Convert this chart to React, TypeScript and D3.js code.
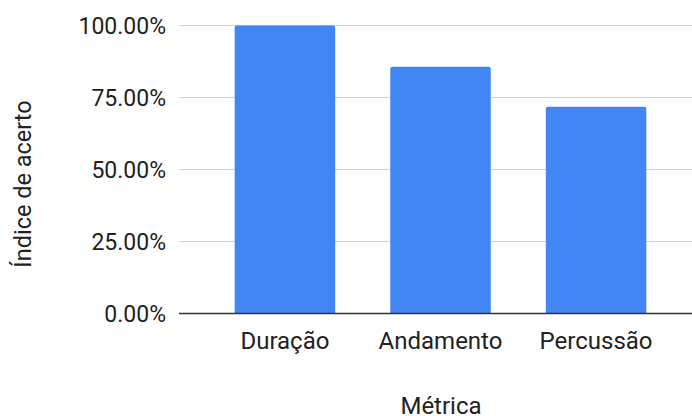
import React from "react";
import * as d3 from "d3";

const categories = ["Duração", "Andamento", "Percussão"];
const values = [100, 85.7, 71.8];
const yTicks = [0, 25, 50, 75, 100];
const xTitle = "Métrica";
const yTitle = "Índice de acerto";

export default function App() {
  const W = 692, H = 416;
  const left = 179, right = 702, top = 25.5, bottom = 313.5;
  const x = d3.scaleBand<string>().domain(categories).range([left, right]).paddingInner(0.354).paddingOuter(0.358);
  const y = d3.scaleLinear().domain([0, 100]).range([bottom, top]);
  const font = "Roboto, sans-serif";
  return (
    <svg width={W} height={H} style={{ position: "absolute", left: 0, top: 0, background: "#fff" }}>
      {yTicks.map((t) => (
        <g key={t}>
          {t > 0 && <line x1={left} x2={W} y1={y(t)} y2={y(t)} stroke="#d0d0d0" strokeWidth={1} />}
          <text x={166} y={y(t) + 8.2} textAnchor="end" fontFamily={font} fontSize={23} fill="#222">
            {t.toFixed(2) + "%"}
          </text>
        </g>
      ))}
      {categories.map((c, i) => {
        const x0 = x(c)!;
        const bw = x.bandwidth();
        const yt = y(values[i]);
        const r = 2;
        const d = `M${x0},${bottom} V${yt + r} Q${x0},${yt} ${x0 + r},${yt} H${x0 + bw - r} Q${x0 + bw},${yt} ${x0 + bw},${yt + r} V${bottom} Z`;
        return (
          <g key={c}>
            <path d={d} fill="#4285f4" />
            <text x={x0 + bw / 2} y={348.5} textAnchor="middle" fontFamily={font} fontSize={24} fill="#222">
              {c}
            </text>
          </g>
        );
      })}
      <line x1={left} x2={W} y1={bottom} y2={bottom} stroke="#333" strokeWidth={1.5} />
      <text x={441} y={414} textAnchor="middle" fontFamily={font} fontSize={24} fill="#222">
        {xTitle}
      </text>
      <text transform={`translate(31,184) rotate(-90)`} textAnchor="middle" fontFamily={font} fontSize={23.5} fill="#222">
        {yTitle}
      </text>
    </svg>
  );
}
